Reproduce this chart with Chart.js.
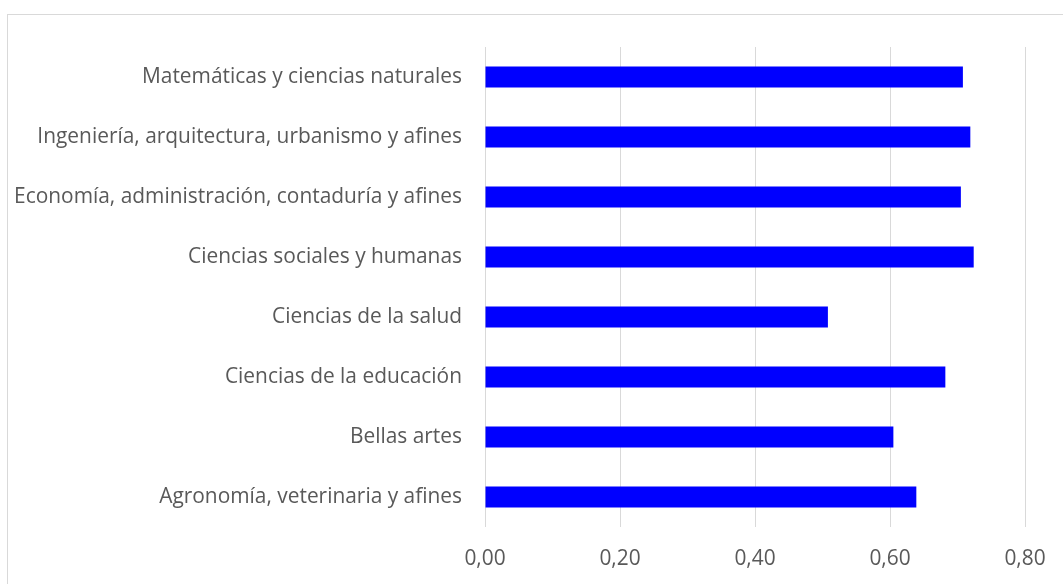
<!DOCTYPE html>
<html>
<head>
<meta charset="utf-8">
<script src="https://cdn.jsdelivr.net/npm/chart.js@4"></script>
<style>
  html, body { margin: 0; padding: 0; background: #fff; }
  #wrap { width: 1063px; height: 584px; position: relative; }
</style>
</head>
<body>
<div id="wrap"><canvas id="grafica"></canvas></div>
<script>
// Datos del gráfico
const categorias = [
  "Matemáticas y ciencias naturales",
  "Ingeniería, arquitectura, urbanismo y afines",
  "Economía, administración, contaduría y afines",
  "Ciencias sociales y humanas",
  "Ciencias de la salud",
  "Ciencias de la educación",
  "Bellas artes",
  "Agronomía, veterinaria y afines"
];
const valores = [0.708, 0.719, 0.705, 0.724, 0.508, 0.682, 0.605, 0.639];
const ticksX = [0, 0.2, 0.4, 0.6, 0.8];

const fuente = { family: "'Open Sans', sans-serif", size: 20.9 };

// borde exterior del gráfico
const bordeExterior = {
  id: 'bordeExterior',
  beforeDraw(chart) {
    const ctx = chart.ctx;
    ctx.save();
    ctx.strokeStyle = '#d9d9d9';
    ctx.lineWidth = 1;
    ctx.strokeRect(7.5, 14.5, 2000, 2000);
    ctx.restore();
  }
};

const $grafica = document.querySelector("#grafica");

new Chart($grafica, {
  type: 'bar',
  data: {
    labels: categorias,
    datasets: [{
      data: valores,
      backgroundColor: '#0000ff',
      borderColor: '#0000ff',
      borderWidth: 0,
      categoryPercentage: 1,
      barPercentage: 0.35
    }]
  },
  plugins: [bordeExterior],
  options: {
    indexAxis: 'y',
    responsive: true,
    maintainAspectRatio: false,
    animation: false,
    layout: { padding: { top: 47, right: 38, left: 0, bottom: 0 } },
    plugins: { legend: { display: false }, tooltip: { enabled: false } },
    scales: {
      x: {
        min: 0,
        max: 0.8,
        afterBuildTicks: (scale) => { scale.ticks = ticksX.map(v => ({ value: v })); },
        afterFit: (scale) => {
          scale.height = 57;
          scale.paddingLeft = 0;
          scale.paddingRight = 0;
        },
        grid: { color: '#d9d9d9', lineWidth: 1, drawTicks: false },
        border: { display: false },
        ticks: {
          padding: 20,
          color: '#595959',
          font: fuente,
          callback: (v) => Number(v).toFixed(2).replace('.', ',')
        }
      },
      y: {
        afterFit: (scale) => { scale.width = 485; },
        grid: { display: false, drawTicks: false },
        border: { display: false },
        ticks: { padding: 23, color: '#595959', font: fuente }
      }
    }
  }
});
</script>
</body>
</html>
